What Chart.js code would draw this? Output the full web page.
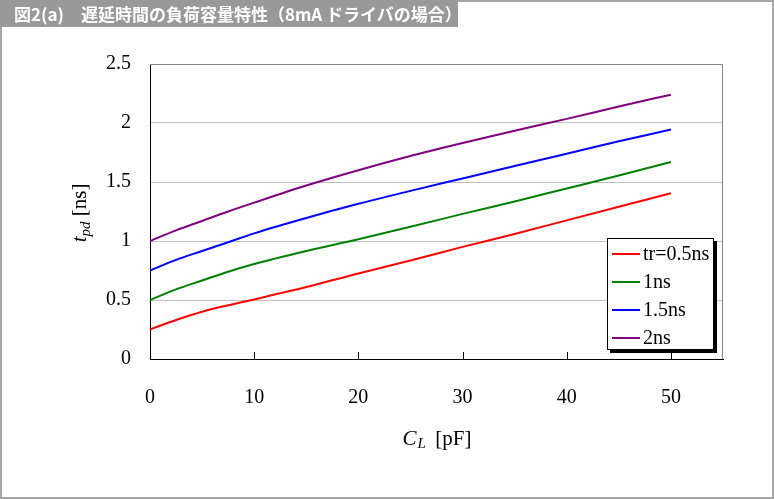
<!DOCTYPE html>
<html>
<head>
<meta charset="utf-8">
<script src="https://cdn.jsdelivr.net/npm/chart.js@4.4.0/dist/chart.umd.min.js"></script>
<style>
  body { margin: 0; background: #fff; }
  #wrap { position: relative; width: 774px; height: 499px; overflow: hidden; }
  #myChart { position: absolute; left: 0; top: 0; }
  #frame { position: absolute; left: 0; top: 0; width: 774px; height: 499px; box-sizing: border-box;
           border: 2px solid #a6a6a6; pointer-events: none; }
  #title { position: absolute; left: 0; top: 0; width: 458px; height: 27px; background: #999999;
           color: #fff; font: bold 17px "Noto Sans CJK JP", sans-serif; line-height: 27px;
           padding-left: 14px; box-sizing: border-box; white-space: nowrap; }
</style>
</head>
<body>
<div id="wrap">
  <canvas id="myChart" width="774" height="499"></canvas>
  <div id="frame"></div>
  <div id="title">図2(a)　遅延時間の負荷容量特性（8mA ドライバの場合）</div>
</div>
<script>
// CL [pF]
var capacitance = [0, 2.5, 5, 7.5, 10, 15, 20, 25, 30, 35, 40, 45, 50];
// tpd [ns] for each rise time
var tr05 = [0.25, 0.33, 0.40, 0.455, 0.505, 0.61, 0.725, 0.835, 0.95, 1.06, 1.175, 1.29, 1.405];
var tr10 = [0.50, 0.59, 0.665, 0.74, 0.805, 0.915, 1.015, 1.12, 1.23, 1.335, 1.445, 1.555, 1.67];
var tr15 = [0.75, 0.84, 0.915, 0.99, 1.065, 1.195, 1.315, 1.425, 1.53, 1.635, 1.74, 1.845, 1.945];
var tr20 = [1.00, 1.09, 1.17, 1.25, 1.325, 1.47, 1.60, 1.72, 1.83, 1.935, 2.035, 2.14, 2.24];
var seriesNames = ["tr=0.5ns", "1ns", "1.5ns", "2ns"];
var seriesColors = ["#ff0000", "#008000", "#0000ff", "#800080"];
var xTicks = [0, 10, 20, 30, 40, 50];

function pts(ys) {
  return capacitance.map(function (c, i) { return { x: c, y: ys[i] }; });
}

var serif = "'Liberation Serif', 'Times New Roman', serif";

var extras = {
  id: 'extras',
  afterDraw: function (chart) {
    var c = chart.ctx, a = chart.chartArea;
    c.save();
    // top / right frame of plot area
    c.strokeStyle = '#868686';
    c.lineWidth = 1;
    c.beginPath();
    c.moveTo(a.left, a.top + 0.5);
    c.lineTo(a.right - 0.5, a.top + 0.5);
    c.lineTo(a.right - 0.5, a.bottom);
    c.stroke();
    // x tick marks (inside)
    var xs = chart.scales.x;
    c.strokeStyle = '#000';
    c.beginPath();
    xTicks.slice(1).forEach(function (v) {
      var px = Math.round(xs.getPixelForValue(v)) + 0.5;
      c.moveTo(px, a.bottom);
      c.lineTo(px, a.bottom - 7);
    });
    c.stroke();

    // axis titles
    c.fillStyle = '#000';
    c.textBaseline = 'alphabetic';
    // y: t_pd [ns]
    c.save();
    c.translate(86, 213);
    c.rotate(-Math.PI / 2);
    c.font = 'italic 21px ' + serif;
    var w1 = c.measureText('t').width;
    c.font = 'italic 15px ' + serif;
    var w2 = c.measureText('pd').width;
    c.font = '21px ' + serif;
    var w3 = c.measureText(' [ns]').width;
    var x0 = -(w1 + w2 + w3) / 2;
    c.font = 'italic 21px ' + serif;
    c.fillText('t', x0, 0);
    c.font = 'italic 15px ' + serif;
    c.fillText('pd', x0 + w1, 4);
    c.font = '21px ' + serif;
    c.fillText(' [ns]', x0 + w1 + w2, 0);
    c.restore();
    // x: C_L [pF]
    c.font = 'italic 21px ' + serif;
    var v1 = c.measureText('C').width;
    c.font = 'italic 15px ' + serif;
    var v2 = c.measureText('L').width;
    c.font = '21px ' + serif;
    var v3 = c.measureText('  [pF]').width;
    var bx = 437 - (v1 + v2 + v3) / 2, by = 445;
    c.font = 'italic 21px ' + serif;
    c.fillText('C', bx, by);
    c.font = 'italic 15px ' + serif;
    c.fillText('L', bx + v1 + 1, by + 3);
    c.font = '21px ' + serif;
    c.fillText('  [pF]', bx + v1 + v2, by);

    // legend
    var lx = 607, ly = 238, lw = 107, lh = 112;
    c.fillStyle = '#000';
    c.fillRect(lx + 3, ly + 3, lw, lh);
    c.fillStyle = '#fff';
    c.fillRect(lx, ly, lw, lh);
    c.strokeStyle = '#000';
    c.lineWidth = 1;
    c.strokeRect(lx + 0.5, ly + 0.5, lw - 1, lh - 1);
    c.font = '20px ' + serif;
    c.textBaseline = 'middle';
    chart.data.datasets.forEach(function (ds, i) {
      var yy = ly + 16 + i * 28;
      c.strokeStyle = ds.borderColor;
      c.lineWidth = 2;
      c.beginPath();
      c.moveTo(lx + 5, yy);
      c.lineTo(lx + 33, yy);
      c.stroke();
      c.fillStyle = '#000';
      c.fillText(ds.label, lx + 36, yy + 1);
    });
    c.restore();
  }
};

var ctx = document.getElementById('myChart').getContext('2d');
var myChart = new Chart(ctx, {
  type: 'line',
  data: {
    datasets: [
      { label: seriesNames[0], data: pts(tr05), borderColor: seriesColors[0] },
      { label: seriesNames[1], data: pts(tr10), borderColor: seriesColors[1] },
      { label: seriesNames[2], data: pts(tr15), borderColor: seriesColors[2] },
      { label: seriesNames[3], data: pts(tr20), borderColor: seriesColors[3] }
    ]
  },
  options: {
    responsive: false,
    animation: false,
    layout: { padding: { top: 64, right: 51, left: 0, bottom: 0 } },
    elements: {
      point: { radius: 0 },
      line: { borderWidth: 2, tension: 0.3, cubicInterpolationMode: 'monotone' }
    },
    plugins: { legend: { display: false }, tooltip: { enabled: false } },
    scales: {
      x: {
        type: 'linear', min: 0, max: 55,
        afterBuildTicks: function (s) { s.ticks = xTicks.map(function (v) { return { value: v }; }); },
        afterFit: function (s) { s.height = 140; },
        grid: { color: 'transparent', drawTicks: false },
        border: { display: true, color: '#000', width: 1 },
        ticks: { padding: 27, color: '#000', font: { family: serif, size: 20 }, maxRotation: 0 }
      },
      y: {
        min: 0, max: 2.5,
        afterFit: function (s) { s.width = 150; },
        grid: {
          drawTicks: false,
          color: function (c) { return (c.tick && c.tick.value === 0) ? 'transparent' : '#c0c0c0'; }
        },
        border: { display: true, color: '#000', width: 1 },
        ticks: {
          stepSize: 0.5, padding: 19, color: '#000', font: { family: serif, size: 20 },
          callback: function (v) { return String(Math.round(v * 10) / 10); }
        }
      }
    }
  },
  plugins: [extras]
});
</script>
</body>
</html>
